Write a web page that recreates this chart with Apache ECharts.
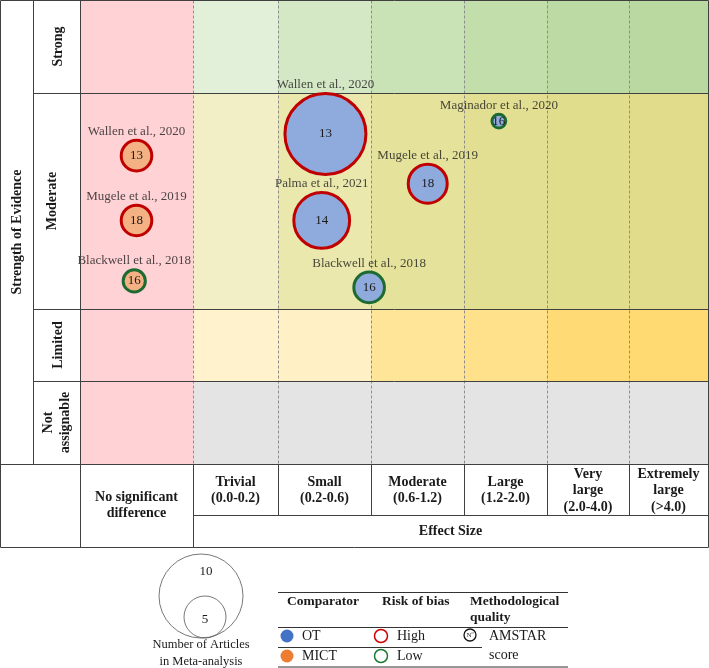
<!DOCTYPE html>
<html><head><meta charset="utf-8">
<script src="https://cdn.jsdelivr.net/npm/echarts@6/dist/echarts.min.js"></script>
<style>html,body{margin:0;padding:0;background:#fff}#c{width:709px;height:668px}</style>
</head><body><div id="c"></div>
<script>
// ---- data ----
const effectSizes = ['No significant\ndifference','Trivial\n(0.0-0.2)','Small\n(0.2-0.6)','Moderate\n(0.6-1.2)','Large\n(1.2-2.0)','Very\nlarge\n(2.0-4.0)','Extremely\nlarge\n(>4.0)'];
const evidenceLevels = ['Strong','Moderate','Limited','Not\nassignable'];
const studies = ['Wallen et al., 2020','Mugele et al., 2019','Blackwell et al., 2018','Wallen et al., 2020','Palma et al., 2021','Blackwell et al., 2018','Mugele et al., 2019','Maginador et al., 2020'];
const comparator = ['MICT','MICT','MICT','OT','OT','OT','OT','OT'];
const riskOfBias = ['High','High','Low','High','High','Low','High','Low'];
const amstarScore = [13,18,16,13,14,16,18,16];
const nArticles = [4,4,3,10,7,4,5,2];
const effectIndex = [0,0,0,2,2,2,3,4];
const posInEffect = [0.50,0.50,0.48,0.51,0.47,0.98,0.61,0.42];
const evidenceIndex = [1,1,1,1,1,1,1,1];
const posInEvidence = [0.29,0.59,0.87,0.19,0.59,0.90,0.42,0.13];
const sizeLegendCounts = [10,5];

// ---- layout / style ----
const colWidths = [113,85,93,93,83,82,79];
const rowHeights = [93,216,72,83];
const cellColors = [
 ['#FFD3D5','#E2EFD9','#D4E8C6','#C9E2B6','#C1DEAB','#BCDBA4','#B9D9A1'],
 ['#FFD3D5','#F2EFC6','#EBE8AE','#E5E29C','#E2DF92','#E0DD8D','#E0DC8C'],
 ['#FFD3D5','#FFF2CC','#FFF0C5','#FFE598','#FFE08B','#FFDA75','#FFDA72'],
 ['#FFD3D5','#E4E4E4','#E4E4E4','#E4E4E4','#E4E4E4','#E4E4E4','#E4E4E4']
];
const fillColor = {OT:'#8FAADC', MICT:'#F4B183'};
const dotColor = {OT:'#4472C4', MICT:'#ED7D31'};
const riskColor = {High:'#C00000', Low:'#1D6B32'};
const radiusPerArticle = 4.2;
const FONT = '"Liberation Serif","Times New Roman",serif';

const cum = a => a.reduce((acc,v)=>{acc.push(acc[acc.length-1]+v);return acc;},[0]);
const colEdges = cum(colWidths), rowEdges = cum(rowHeights);
const totalW = colEdges[colEdges.length-1], totalH = rowEdges[rowEdges.length-1];

const cellData = [];
evidenceLevels.forEach((_,r)=>effectSizes.forEach((_,c)=>cellData.push([c,r])));

const lineData = [];
for (let i=1;i<colEdges.length-1;i++) lineData.push([colEdges[i],0,colEdges[i],totalH,1]);
for (let i=1;i<rowEdges.length-1;i++) lineData.push([0,rowEdges[i],totalW,rowEdges[i],0]);
lineData.push([0,0,totalW,0,0],[totalW,0,totalW,totalH,0],[0,totalH,totalW,totalH,0],[0,0,0,totalH,0]);

const pointData = studies.map((s,i)=>{
  const c = effectIndex[i], r = evidenceIndex[i];
  return {
    name: s,
    value: [colEdges[c]+posInEffect[i]*colWidths[c], rowEdges[r]+posInEvidence[i]*rowHeights[r], nArticles[i], amstarScore[i]],
    itemStyle: {color: fillColor[comparator[i]], borderColor: riskColor[riskOfBias[i]], borderWidth: 3, opacity: 1}
  };
});
const labelData = pointData.map(d=>({name:d.name, value:d.value}));

const chart = echarts.init(document.getElementById('c'));
const crisp = v => Math.round(v)+0.5;
chart.setOption({
  animation:false,
  grid:{left:80, top:0, width:totalW, height:totalH},
  xAxis:{type:'value', min:0, max:totalW, show:false},
  yAxis:{type:'value', min:0, max:totalH, inverse:true, show:false},
  series:[
    {type:'custom', z:1, silent:true, data:cellData, renderItem:(p,api)=>{
      const c=api.value(0), r=api.value(1);
      const a=api.coord([colEdges[c],rowEdges[r]]), b=api.coord([colEdges[c+1],rowEdges[r+1]]);
      return {type:'rect', shape:{x:a[0],y:a[1],width:b[0]-a[0],height:b[1]-a[1]}, style:{fill:cellColors[r][c]}};
    }},
    {type:'custom', z:3, silent:true, data:lineData, renderItem:(p,api)=>{
      const a=api.coord([api.value(0),api.value(1)]), b=api.coord([api.value(2),api.value(3)]);
      const dashed=api.value(4)===1;
      return {type:'line', shape:{x1:crisp(a[0]),y1:crisp(a[1]),x2:crisp(b[0]),y2:crisp(b[1])},
        style:{stroke: dashed?'#8d8d8d':'#404040', lineWidth:1, lineDash: dashed?[3,2]:null}};
    }},
    {type:'scatter', z:5, silent:true, data:labelData,
      symbolSize: v=>2*radiusPerArticle*v[2],
      itemStyle:{color:'rgba(0,0,0,0)'},
      label:{show:true, position:'top', distance:1, formatter:p=>p.name, fontFamily:FONT, fontSize:13, color:'#1a1a1a'}},
    {type:'scatter', z:6, silent:true, data:pointData,
      symbolSize: v=>2*radiusPerArticle*v[2]-3,
      itemStyle:{opacity:1},
      label:{show:true, position:'inside', formatter:p=>p.value[3], fontFamily:FONT, fontSize:13, color:'#1a1a1a'}}
  ]
});

// ---- table frame, headers and legend ----
const P = (x,y)=>chart.convertToPixel({gridIndex:0},[x,y]);
const g = [];
const L = (x1,y1,x2,y2,w,c)=>g.push({type:'line', z:100, silent:true, shape:{x1:x1,y1:y1,x2:x2,y2:y2}, style:{stroke:c||'#404040', lineWidth:w||1}});
const T = (text,x,y,opt)=>g.push(Object.assign({type:'text', z:100, silent:true, style:Object.assign({text:text, x:x, y:y, textAlign:'center', textVerticalAlign:'middle', font:'bold 14px '+FONT, fill:'#1a1a1a', lineHeight:16}, opt&&opt.style||{})}, opt&&opt.el||{}));

const gx0 = P(0,0)[0], gx1 = P(totalW,0)[0], gy1 = P(0,totalH)[1];
const headerMid = 515.5, tableBottom = 547.5;
const hx = x=>crisp(x);
// outer frame / label columns
L(0.5,0.5,gx0,0.5); L(0.5,0.5,0.5,tableBottom); L(33.5,0.5,33.5,gy1);
L(hx(gx0),0,hx(gx0),tableBottom);
for (let i=1;i<rowEdges.length-1;i++){ const y=crisp(P(0,rowEdges[i])[1]); L(33.5,y,gx0,y); }
L(0.5,crisp(gy1),gx1,crisp(gy1));
L(0.5,tableBottom,hx(gx1),tableBottom);
L(hx(gx1),gy1,hx(gx1),tableBottom);
// header grid
for (let i=1;i<colEdges.length-1;i++){ const x=hx(P(colEdges[i],0)[0]); L(x,gy1,x,i===1?tableBottom:headerMid); }
L(hx(P(colEdges[1],0)[0]),headerMid,hx(gx1),headerMid);
// header texts
effectSizes.forEach((t,i)=>{
  const cx = P((colEdges[i]+colEdges[i+1])/2,0)[0];
  const cy = i===0 ? (gy1+tableBottom)/2 : (gy1+headerMid)/2+1;
  T(t,cx,cy,{style:{lineHeight: i>=5?16.5:16}});
});
T('Effect Size',(P(colEdges[1],0)[0]+gx1)/2,(headerMid+tableBottom)/2);
// row labels
const rowLabelX = [58,52,58,57];
evidenceLevels.forEach((t,r)=>{
  const cy = P(0,(rowEdges[r]+rowEdges[r+1])/2)[1];
  T(t,0,0,{el:{x:rowLabelX[r], y:cy, rotation:Math.PI/2}, style:{lineHeight:17}});
});
T('Strength of Evidence',0,0,{el:{x:17, y:gy1/2, rotation:Math.PI/2}});

// size legend
sizeLegendCounts.forEach((n,i)=>{
  const r = radiusPerArticle*n;
  g.push({type:'circle', z:100, silent:true, shape:{cx: i===0?201:205, cy: 638-r, r:r}, style:{fill:'none', stroke:'#555', lineWidth:0.8}});
});
T(String(sizeLegendCounts[0]),206,572,{style:{font:'13px '+FONT}});
T(String(sizeLegendCounts[1]),205,620,{style:{font:'13px '+FONT}});
T('Number of Articles\nin Meta-analysis',201,653.5,{style:{font:'12.5px '+FONT, lineHeight:17}});

// legend table
L(278,592.5,568,592.5,1,'#333'); L(278,627.5,568,627.5,1,'#333'); L(278,647.5,482,647.5,1,'#333'); L(278,667,568,667,1.2,'#333');
const left = {textAlign:'left'};
T('Comparator',287,602,{style:Object.assign({font:'bold 13.5px '+FONT},left)});
T('Risk of bias',382,602,{style:Object.assign({font:'bold 13.5px '+FONT},left)});
T('Methodological\nquality',470,610,{style:Object.assign({font:'bold 13.5px '+FONT, lineHeight:16},left)});
const legRows = ['OT','MICT'], legRisk = ['High','Low'], legY = [636,656];
legRows.forEach((k,i)=>{
  g.push({type:'circle', z:100, silent:true, shape:{cx:287, cy:legY[i], r:6.5}, style:{fill:dotColor[k]}});
  T(k,302,legY[i],{style:Object.assign({font:'14px '+FONT},left)});
});
legRisk.forEach((k,i)=>{
  g.push({type:'circle', z:100, silent:true, shape:{cx:381, cy:legY[i], r:6.5}, style:{fill:'none', stroke:k==='Low'?'#1A7A30':'#D00000', lineWidth:1.5}});
  T(k,397,legY[i],{style:Object.assign({font:'14px '+FONT},left)});
});
g.push({type:'circle', z:100, silent:true, shape:{cx:470, cy:635, r:6}, style:{fill:'none', stroke:'#111', lineWidth:1.3}});
T('Nº',470,635.5,{style:{font:'7px '+FONT}});
T('AMSTAR\nscore',489,645.5,{style:Object.assign({font:'14px '+FONT, lineHeight:19},left)});

chart.setOption({graphic:{elements:g}});
</script></body></html>
